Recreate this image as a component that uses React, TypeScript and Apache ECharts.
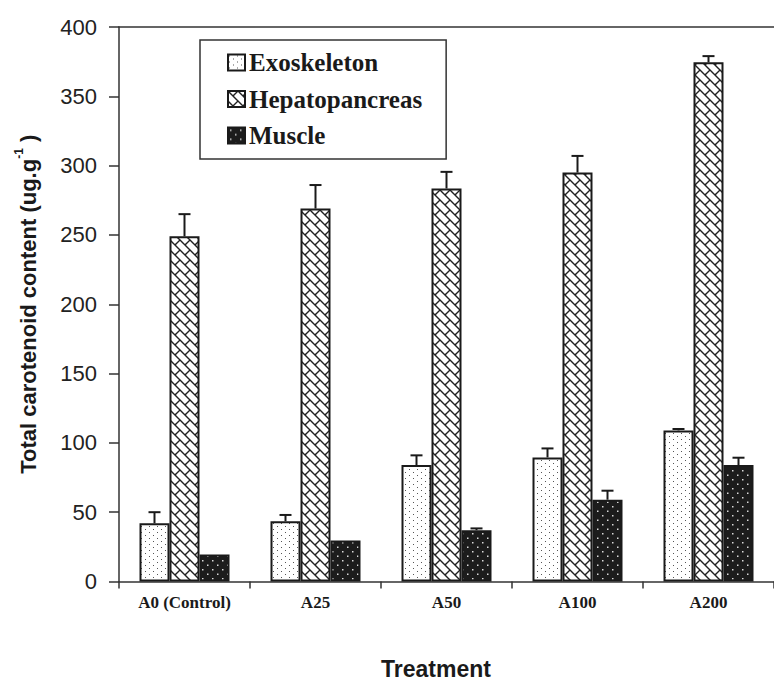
import React, { useEffect, useRef } from "react";
import * as echarts from "echarts";

const categories = ["A0 (Control)", "A25", "A50", "A100", "A200"];
const seriesNames = ["Exoskeleton", "Hepatopancreas", "Muscle"];
const exoskeleton = [42, 43.5, 84, 89.5, 109];
const exoskeletonErr = [8, 4.5, 7, 6.5, 1];
const hepatopancreas = [249, 269, 283.5, 295, 374.5];
const hepatopancreasErr = [16, 17, 12, 12, 4.5];
const muscle = [19.5, 29.6, 37, 59, 84];
const muscleErr = [0, 0, 1.3, 6.5, 5.3];
const yTicks = [0, 50, 100, 150, 200, 250, 300, 350, 400];

function makeTile(w: number, h: number, draw: (c: CanvasRenderingContext2D) => void) {
  const cv = document.createElement("canvas");
  cv.width = w;
  cv.height = h;
  const ctx = cv.getContext("2d")!;
  draw(ctx);
  return cv;
}

export default function App() {
  const ref = useRef<HTMLDivElement>(null);
  useEffect(() => {
    document.body.style.margin = "0";
    if (!ref.current) return;
    const chart = echarts.init(ref.current, null, { renderer: "svg" });

    const exoTile = makeTile(8, 6, (c) => {
      c.fillStyle = "#ffffff";
      c.fillRect(0, 0, 8, 6);
      c.fillStyle = "#555555";
      c.fillRect(1, 1, 1, 1);
      c.fillRect(5, 4, 1, 1);
    });
    const hepTile = makeTile(10, 10, (c) => {
      c.fillStyle = "#ffffff";
      c.fillRect(0, 0, 10, 10);
      c.strokeStyle = "#222222";
      c.lineWidth = 1.4;
      c.beginPath();
      c.moveTo(-1, -1);
      c.lineTo(11, 11);
      c.moveTo(5, 5);
      c.lineTo(10, 0);
      c.moveTo(0, 10);
      c.lineTo(0.5, 9.5);
      c.stroke();
    });
    const musTile = makeTile(10, 9, (c) => {
      c.fillStyle = "#1c1c1c";
      c.fillRect(0, 0, 10, 9);
      c.fillStyle = "#d8d8d8";
      c.fillRect(2, 2, 1.5, 1.5);
      c.fillRect(7, 6.5, 1.5, 1.5);
    });

    const values = [exoskeleton, hepatopancreas, muscle];
    const errs = [exoskeletonErr, hepatopancreasErr, muscleErr];
    const tiles = [exoTile, hepTile, musTile];
    const barW = 30;

    const barSeries = seriesNames.map((name, s) => ({
      name,
      type: "bar",
      data: values[s],
      barWidth: barW,
      barGap: "0%",
      itemStyle: {
        color: { image: tiles[s], repeat: "repeat" },
        borderColor: "#1a1a1a",
        borderWidth: 2,
      },
      emphasis: { disabled: true },
      z: 2,
    }));

    const errSeries = seriesNames.map((name, s) => ({
      name: name + " error",
      type: "custom",
      z: 5,
      silent: true,
      data: values[s].map((v, i) => [i, v, errs[s][i]]),
      renderItem: (params: any, api: any) => {
        const x = api.value(0);
        const v = api.value(1);
        const e = api.value(2);
        if (!e) return { type: "group", children: [] };
        const base = api.coord([x, v]);
        const top = api.coord([x, v + e]);
        const cx = base[0] + (s - 1) * barW;
        const st = { stroke: "#1a1a1a", lineWidth: 2 };
        return {
          type: "group",
          children: [
            { type: "line", shape: { x1: cx, y1: base[1], x2: cx, y2: top[1] }, style: st },
            { type: "line", shape: { x1: cx - 6, y1: top[1], x2: cx + 6, y2: top[1] }, style: st },
          ],
        };
      },
    }));

    chart.setOption({
      animation: false,
      backgroundColor: "#ffffff",
      grid: { left: 119, top: 27, width: 667.5, height: 554.5, containLabel: false },
      legend: {
        data: seriesNames,
        orient: "vertical",
        left: 200,
        top: 40,
        itemWidth: 17,
        itemHeight: 16,
        itemGap: 11.5,
        icon: "rect",
        padding: [10, 24, 11, 27],
        borderColor: "#333333",
        borderWidth: 1.5,
        selectedMode: false,
        textStyle: {
          fontFamily: "Liberation Serif",
          fontWeight: "bold",
          fontSize: 25,
          color: "#1a1a1a",
          padding: [0, 0, 0, -1],
        },
      },
      xAxis: [
        {
          type: "category",
          data: categories,
          axisLine: { lineStyle: { color: "#333333", width: 1.5 } },
          axisTick: { show: true, length: 7, lineStyle: { color: "#333333", width: 1.5 } },
          axisLabel: {
            margin: 12,
            fontFamily: "Liberation Serif",
            fontWeight: "bold",
            fontSize: 17,
            color: "#1a1a1a",
          },
          splitLine: { show: false },
        },
        {
          type: "category",
          data: categories,
          position: "top",
          axisLine: { lineStyle: { color: "#333333", width: 1.5 } },
          axisTick: { show: false },
          axisLabel: { show: false },
          splitLine: { show: false },
        },
      ],
      yAxis: {
        type: "value",
        min: yTicks[0],
        max: yTicks[yTicks.length - 1],
        interval: 50,
        name: "{a|Total carotenoid content (ug.g}{s|-1}{a| )}",
        nameLocation: "middle",
        nameGap: 80,
        nameTextStyle: {
          rich: {
            a: {
              fontFamily: "Liberation Sans",
              fontWeight: "bold",
              fontSize: 22,
              color: "#1a1a1a",
              lineHeight: 26,
              verticalAlign: "bottom",
            },
            s: {
              fontFamily: "Liberation Sans",
              fontWeight: "bold",
              fontSize: 12,
              color: "#1a1a1a",
              lineHeight: 26,
              verticalAlign: "top",
            },
          },
        },
        axisLine: { show: true, lineStyle: { color: "#333333", width: 1.5 } },
        axisTick: { show: true, length: 10, lineStyle: { color: "#333333", width: 1.5 } },
        axisLabel: {
          margin: 22,
          fontFamily: "Liberation Sans",
          fontSize: 22,
          color: "#222222",
        },
        splitLine: { show: false },
      },
      graphic: [
        {
          type: "text",
          left: 437 - 56,
          top: 657,
          style: {
            text: "Treatment",
            fontFamily: "Liberation Sans",
            fontWeight: "bold",
            fontSize: 23,
            fill: "#1a1a1a",
          },
        },
      ],
      series: [...barSeries, ...errSeries],
    });
    return () => chart.dispose();
  }, []);
  return <div ref={ref} style={{ width: 774, height: 682 }} />;
}
